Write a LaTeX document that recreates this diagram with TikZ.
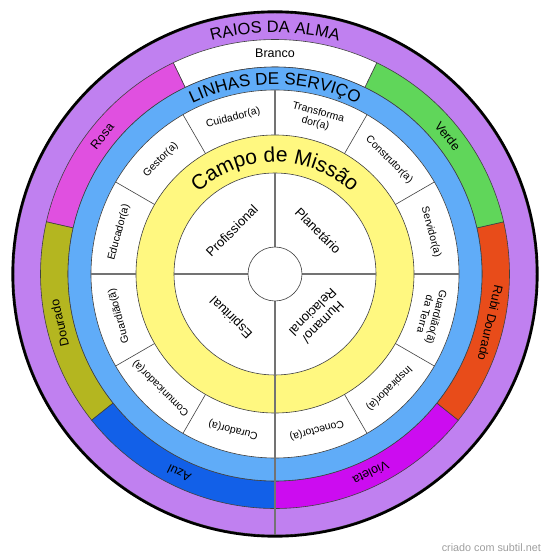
\documentclass[tikz,border=0pt]{standalone}
\usepackage{fontspec}
\setmainfont{Liberation Sans}
\usepackage{xcolor}
\usepackage{tikz}
\usetikzlibrary{decorations.text}

\definecolor{lilas}{RGB}{192,128,240}
\definecolor{rosa}{RGB}{224,80,224}
\definecolor{verde}{RGB}{96,214,90}
\definecolor{rubi}{RGB}{232,76,26}
\definecolor{violeta}{RGB}{204,12,240}
\definecolor{azul}{RGB}{18,96,232}
\definecolor{dourado}{RGB}{180,182,32}
\definecolor{celeste}{RGB}{96,172,248}
\definecolor{amarelo}{RGB}{255,248,128}

\begin{document}
\begin{tikzpicture}[
  x=1pt, y=1pt,
  ring/.style={draw=black!75, line width=0.6pt},
  divisa/.style={draw=black!55, line width=1.1pt},
  raiolbl/.style={font=\fontsize{12.5}{14}\selectfont, inner sep=0pt},
  servlbl/.style={font=\fontsize{10.5}{11.5}\selectfont, align=center, inner sep=0pt},
  campolbl/.style={font=\fontsize{13}{14.5}\selectfont, align=center, inner sep=0pt}
]
\useasboundingbox (-275,-285) rectangle (275,274);

% raios da alma
\filldraw[ring, fill=lilas] (0,0) circle[radius=261pt];
\foreach \cor [count=\i from 0] in {violeta,rubi,verde,white,rosa,dourado,azul} {
  \pgfmathsetmacro\aa{270+\i*360/7}
  \pgfmathsetmacro\ab{270+(\i+1)*360/7}
  \filldraw[ring, fill=\cor] (\aa:207pt) arc[start angle=\aa, end angle=\ab, radius=207pt]
    -- (\ab:234.5pt) arc[start angle=\ab, end angle=\aa, radius=234.5pt] -- cycle;
}
\foreach \txt [count=\i from 0] in {Violeta,Rubi Dourado,Verde,Branco,Rosa,Dourado,Azul} {
  \pgfmathsetmacro\am{270+(\i+0.5)*360/7}
  \pgfmathsetmacro\rot{\am-90}
  \node[raiolbl, rotate=\rot] (raio-\i) at (\am:221pt) {\txt};
}

% linhas de servico
\filldraw[ring, fill=celeste] (0,0) circle[radius=207pt];
\filldraw[ring, fill=white] (0,0) circle[radius=184pt];
\foreach \a in {30,60,...,330} \draw[ring] (\a:139pt) -- (\a:184pt);
\foreach \txt [count=\i from 0] in {Servidor(a),Construtor(a),{Transforma\\dor(a)},Cuidador(a),Gestor(a),Educador(a),Guardião(ã),Comunicador(a),Curador(a),Conector(a),Inspirador(a),{Guardião(ã)\\da Terra}} {
  \pgfmathsetmacro\am{15+\i*30}
  \pgfmathsetmacro\rot{\am-90}
  \node[servlbl, rotate=\rot] (serv-\i) at (\am:161.5pt) {\txt};
}

% campo de missao
\filldraw[ring, fill=amarelo] (0,0) circle[radius=139pt];
\filldraw[ring, fill=white] (0,0) circle[radius=101pt];
\foreach \a in {0,90,180} {
  \draw[divisa] (\a:27pt) -- (\a:101pt);
  \draw[divisa] (\a:139pt) -- (\a:184pt);
}
\draw[divisa] (270:27pt) -- (270:261pt);
\filldraw[ring, fill=white] (0,0) circle[radius=27pt];
\foreach \txt [count=\i from 0] in {Planetário,Profissional,Espiritual,{Humano/\\Relacional}} {
  \pgfmathsetmacro\am{45+\i*90}
  \pgfmathsetmacro\rot{\am-90}
  \node[campolbl, rotate=\rot] (campo-\i) at (\am:61pt) {\txt};
}

% titulos curvos
\path[decorate, decoration={text along path, text align=center,
  text={|\fontsize{16.5}{16.5}\selectfont|RAIOS DA ALMA}}]
  (150:241.5pt) arc[start angle=150, end angle=30, radius=241.5pt];
\path[decorate, decoration={text along path, text align=center,
  text={|\fontsize{17}{17}\selectfont|LINHAS DE SERVIÇO}}]
  (160:189.5pt) arc[start angle=160, end angle=20, radius=189.5pt];
\path[decorate, decoration={text along path, text align=center,
  text={|\fontsize{21}{21}\selectfont|Campo de Missão}}]
  (170:112pt) arc[start angle=170, end angle=10, radius=112pt];

\draw[line width=2.6pt] (0,0) circle[radius=262.3pt];
\node[font=\fontsize{10.8}{12}\selectfont, text=black!38, anchor=east, inner sep=0pt] (marca) at (266,-274) {criado com subtil.net};
\end{tikzpicture}
\end{document}
